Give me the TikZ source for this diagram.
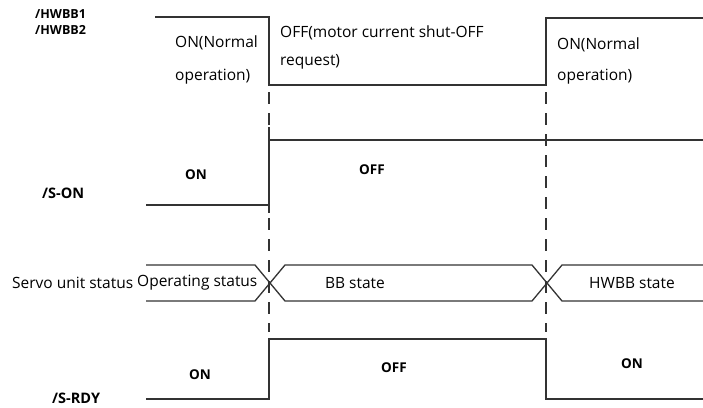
\documentclass[tikz,border=0pt]{standalone}
\usepackage{fontspec}
\setmainfont{Open Sans}
\usetikzlibrary{positioning}
\tikzset{
  wave/.style={line width=1.3pt, black!80},
  guide/.style={line width=1.3pt, black!80, dash pattern=on 12pt off 9pt},
  signame/.style={font=\bfseries\fontsize{14.5}{16}\selectfont, inner sep=0pt, anchor=west},
  levelname/.style={font=\bfseries\fontsize{13.5}{16}\selectfont, inner sep=0pt},
  note/.style={font=\fontsize{15.5}{18}\selectfont, inner sep=0pt, anchor=west}
}

\begin{document}
\begin{tikzpicture}[x=1pt,y=-1pt]
\useasboundingbox (0,0) rectangle (703,407);
% switching instants
\coordinate (off) at (269,0);
\coordinate (on) at (546,0);
% signal names
\node[signame, font=\bfseries\fontsize{12.5}{16}\selectfont] (hwbb1) at (35,14) {/HWBB1};
\node[signame, font=\bfseries\fontsize{12.5}{16}\selectfont] (hwbb2) at (35,30) {/HWBB2};
\node[signame] (son) at (42,193) {/S-ON};
\node[signame] (srdy) at (52,398) {/S-RDY};
\node[note] (servo) at (12,283) {Servo unit status};
% /HWBB1 /HWBB2
\draw[wave] (155,17) -- (off |- 0,17) -- (off |- 0,85) -- (on |- 0,85) -- (on |- 0,18) -- (703,18);
\node[note] (hwbbon) at (175,43) {ON(Normal};
\node[note] (hwbbonb) at (175,77) {operation)};
\node[note] (hwbboff) at (280,33) {OFF(motor current shut-OFF};
\node[note] (hwbboffb) at (280,62) {request)};
\node[note] (hwbbre) at (557,45) {ON(Normal};
\node[note] (hwbbreb) at (557,77) {operation)};
% /S-ON
\draw[wave] (146,205) -- (off |- 0,205);
\draw[wave] (off |- 0,127) -- (off |- 0,213);
\draw[wave] (off |- 0,140) -- (703,140);
\node[levelname] (sonon) at (196,175) {ON};
\node[levelname] (sonoff) at (372,170) {OFF};
% servo unit status
\foreach \top/\bot in {265/301}{
  \draw[wave] (146,\top) -- (255,\top) -- (285,\bot) -- (532,\bot) -- (562,\top) -- (703,\top);
  \draw[wave] (146,\bot) -- (255,\bot) -- (285,\top) -- (532,\top) -- (562,\bot) -- (703,\bot);
}
\node[note] (oper) at (137,283) {Operating status};
\node[note, anchor=center] (bb) at (355,283) {BB state};
\node[note, anchor=center] (hwbbst) at (632,283) {HWBB state};
% /S-RDY
\draw[wave] (146,399) -- (off |- 0,399) -- (off |- 0,339) -- (on |- 0,339) -- (on |- 0,399) -- (703,399);
\node[levelname] (rdyon) at (200,375) {ON};
\node[levelname] (rdyoff) at (394,368) {OFF};
\node[levelname] (rdyre) at (632,364) {ON};
% guide lines
\foreach \t in {off,on}{
  \draw[guide] (\t |- 0,92) -- (\t |- 0,332);
}
\end{tikzpicture}
\end{document}
